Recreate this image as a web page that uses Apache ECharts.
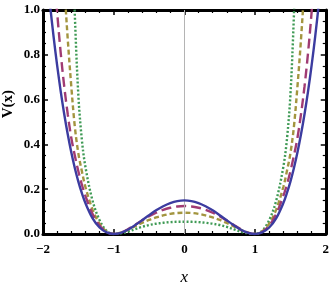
<!DOCTYPE html>
<html>
<head>
<meta charset="utf-8">
<script src="https://cdn.jsdelivr.net/npm/echarts@6/dist/echarts.min.js"></script>
<style>html,body{margin:0;padding:0;background:#fff}#c{width:332px;height:291px}</style>
</head>
<body>
<div id="c"></div>
<script>
var xValues = [-2,-1.95,-1.9,-1.85,-1.8,-1.75,-1.7,-1.65,-1.6,-1.55,-1.5,-1.45,-1.4,-1.3,-1.2,-1.1,-1,-0.9,-0.8,-0.7,-0.6,-0.5,-0.4,-0.3,-0.2,-0.1,0,0.1,0.2,0.3,0.4,0.5,0.6,0.7,0.8,0.9,1,1.1,1.2,1.3,1.4,1.45,1.5,1.55,1.6,1.65,1.7,1.75,1.8,1.85,1.9,1.95,2];
var blueV = [1.35,1.178,1.022,0.88,0.753,0.638,0.536,0.445,0.365,0.295,0.234,0.182,0.138,0.071,0.029,0.007,0,0.005,0.019,0.039,0.061,0.084,0.106,0.124,0.138,0.147,0.15,0.147,0.138,0.124,0.106,0.084,0.061,0.039,0.019,0.005,0,0.007,0.029,0.071,0.138,0.182,0.234,0.295,0.365,0.445,0.536,0.638,0.753,0.88,1.022,1.178,1.35];
var purpleV = [1.97,1.68,1.42,1.19,0.99,0.81,0.66,0.535,0.43,0.35,0.28,0.22,0.17,0.09,0.038,0.009,0,0.006,0.021,0.040,0.060,0.079,0.095,0.108,0.117,0.123,0.125,0.123,0.117,0.108,0.095,0.079,0.060,0.040,0.021,0.006,0,0.009,0.038,0.09,0.17,0.22,0.28,0.35,0.43,0.535,0.66,0.81,0.99,1.19,1.42,1.68,1.97];
var oliveV = [4.0,3.3,2.7,2.2,1.8,1.42,1.12,0.87,0.66,0.48,0.36,0.28,0.21,0.11,0.046,0.011,0,0.006,0.018,0.034,0.049,0.063,0.074,0.083,0.09,0.094,0.095,0.094,0.09,0.083,0.074,0.063,0.049,0.034,0.018,0.006,0,0.011,0.046,0.11,0.21,0.28,0.36,0.48,0.66,0.87,1.12,1.42,1.8,2.2,2.7,3.3,4.0];
var greenV = [10.0,8.5,7.0,5.6,4.5,3.5,2.7,2.0,1.45,0.98,0.62,0.42,0.3,0.15,0.062,0.014,0,0.003,0.01,0.021,0.032,0.04,0.046,0.05,0.053,0.0545,0.055,0.0545,0.053,0.05,0.046,0.04,0.032,0.021,0.01,0.003,0,0.014,0.062,0.15,0.3,0.42,0.62,0.98,1.45,2.0,2.7,3.5,4.5,5.6,7.0,8.5,10.0];
var xTicks = [-2,-1,0,1,2];
var yTicks = [0,0.2,0.4,0.6,0.8,1.0];

function pairs(ys){ return xValues.map(function(x,i){ return [x, ys[i]]; }); }

var font = '"Liberation Serif", "Times New Roman", serif';
var labelStyle = {fontFamily: font, fontWeight: 'bold', fontSize: 13, color: '#000'};
function axisCommon(extra){
  var o = {
    type: 'value',
    axisLine: {show: true, onZero: false, lineStyle: {color: '#000', width: 3}},
    axisTick: {show: true, inside: true, length: 5, lineStyle: {color: '#000', width: 1.5}},
    splitLine: {show: false},
    minorSplitLine: {show: false}
  };
  for (var k in extra) o[k] = extra[k];
  return o;
}

var chart = echarts.init(document.getElementById('c'), null, {renderer: 'canvas'});
function mk(ys, color, dash, z){
  return {type: 'line', showSymbol: false, symbol: 'none', smooth: 0.35, clip: true,
    xAxisIndex: 0, yAxisIndex: 0, animation: false, data: pairs(ys), z: z,
    lineStyle: {color: color, width: 2.4, type: dash, cap: 'butt'}};
}
var minorX = {show: true, splitNumber: 5, length: 3, lineStyle: {color: '#000', width: 1.2}};
var minorY = {show: true, splitNumber: 4, length: 3, lineStyle: {color: '#000', width: 1.2}};

chart.setOption({
  animation: false,
  grid: {left: 43, top: 10, width: 285, height: 224, show: false},
  xAxis: [
    axisCommon({min: -2, max: 2, interval: 1, position: 'bottom', minorTick: minorX,
      axisLabel: Object.assign({margin: 9, formatter: function(v){ if (xTicks.indexOf(v) < 0) return ''; return v < 0 ? '\u2212' + Math.abs(v) : String(v); }}, labelStyle),
      name: 'x', nameLocation: 'middle', nameGap: 35,
      nameTextStyle: {fontFamily: font, fontStyle: 'italic', fontSize: 17, color: '#000'}}),
    axisCommon({min: -2, max: 2, interval: 1, position: 'top', minorTick: minorX, axisLabel: {show: false}})
  ],
  yAxis: [
    axisCommon({min: 0, max: 1, interval: 0.2, position: 'left', minorTick: minorY,
      axisLabel: Object.assign({margin: 3, formatter: function(v){ return v.toFixed(1); }}, labelStyle)}),
    axisCommon({min: 0, max: 1, interval: 0.2, position: 'right', minorTick: minorY, axisLabel: {show: false}})
  ],
  graphic: [{
    type: 'text', left: 1, top: 90, rotation: Math.PI / 2,
    style: {text: 'V(x)', font: 'bold 15px "Liberation Serif"', fill: '#000'}
  }],
  series: [
    {type: 'line', data: [[0, 0]], symbol: 'none', lineStyle: {opacity: 0}, z: 1, silent: true,
     markLine: {silent: true, symbol: ['none', 'none'], label: {show: false},
       lineStyle: {color: '#b4b4b4', width: 1, type: 'solid'}, data: [{xAxis: 0}]}},
    mk(greenV, '#3f9a55', [2, 2], 2),
    mk(oliveV, '#a3953f', [5, 3], 3),
    mk(purpleV, '#a03b73', [10, 5], 4),
    mk(blueV, '#3c3ca0', 'solid', 5)
  ]
});
</script>
</body>
</html>
